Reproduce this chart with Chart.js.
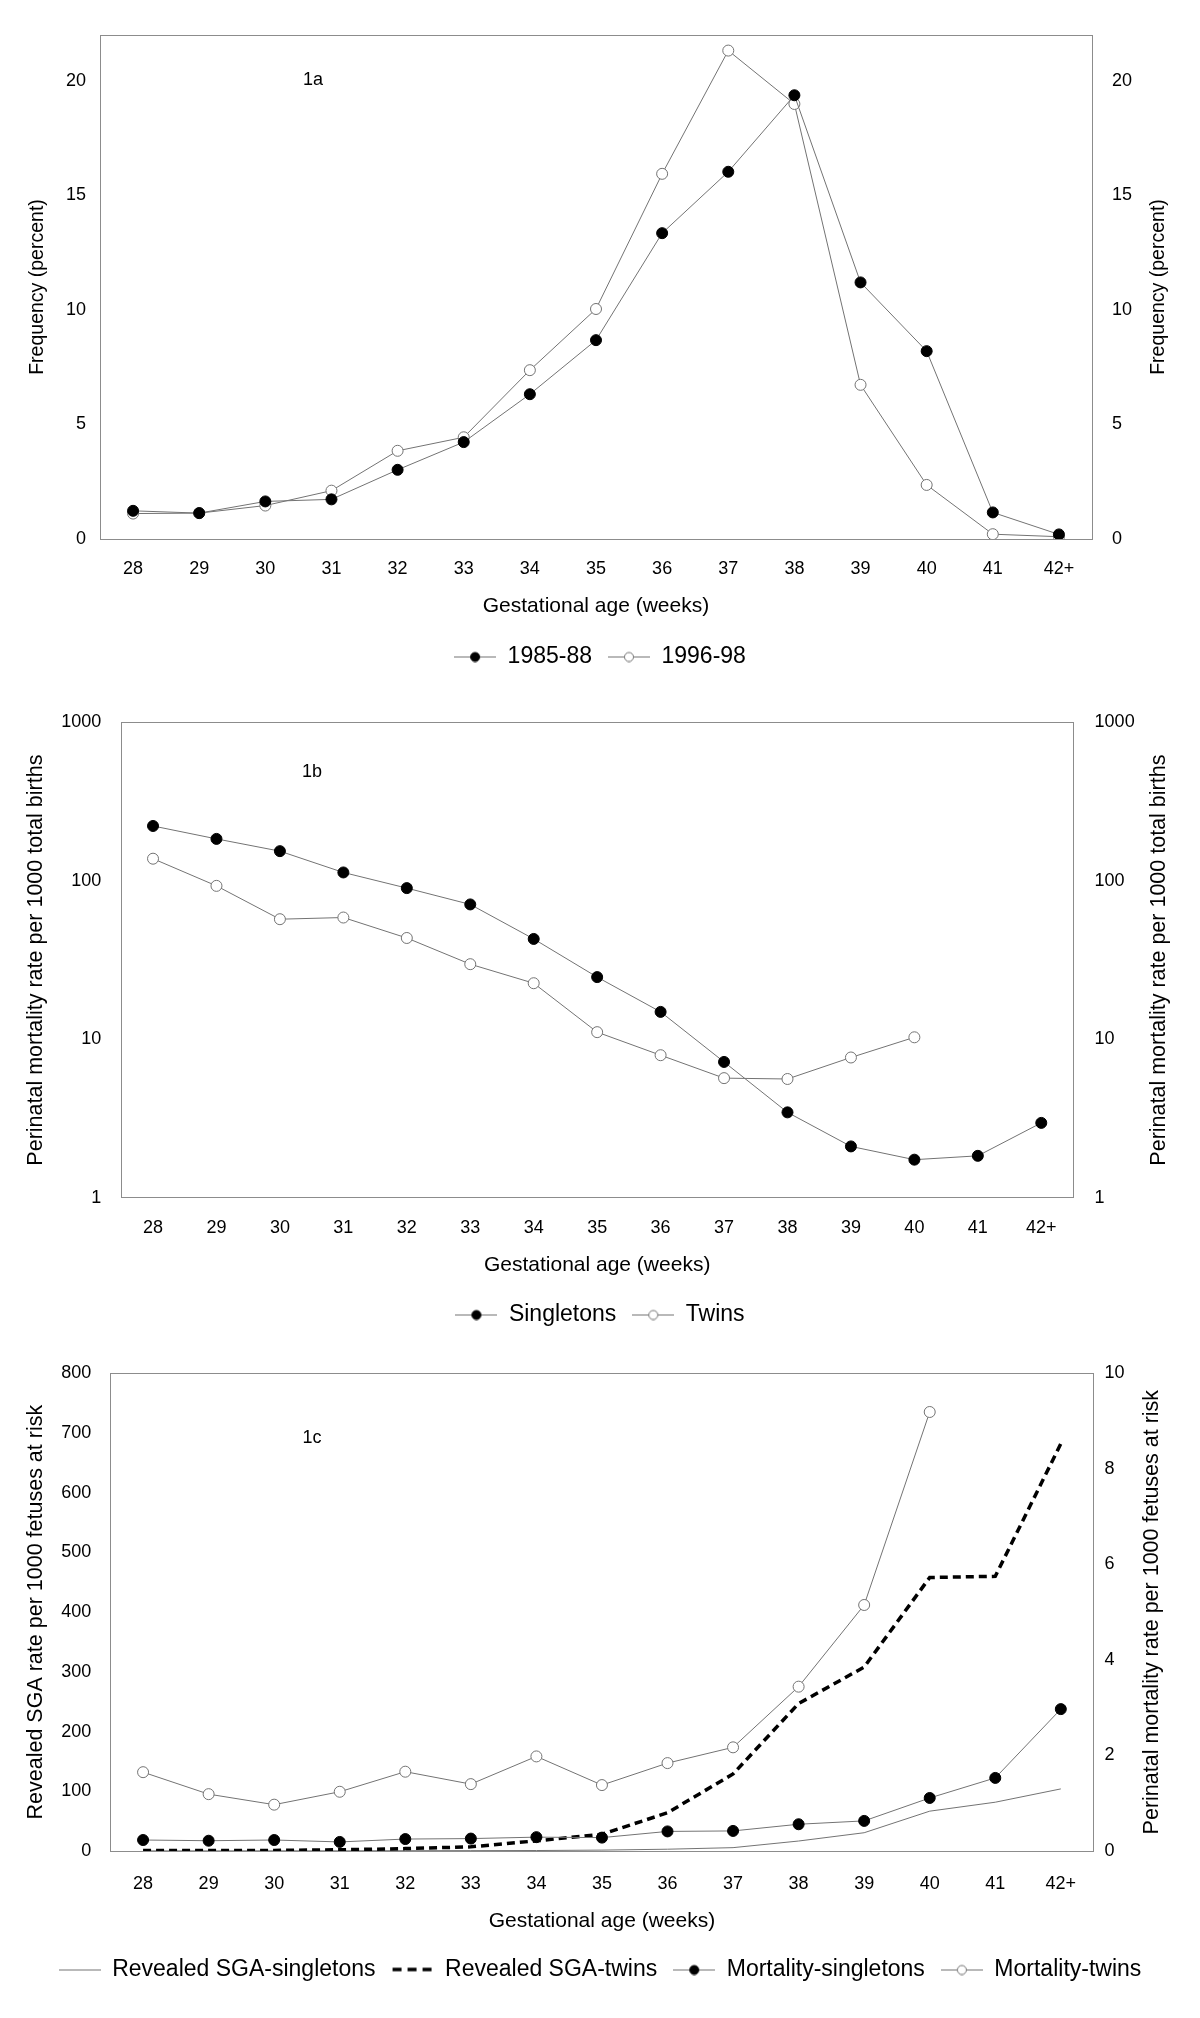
<!DOCTYPE html>
<html>
<head>
<meta charset="utf-8">
<title>Gestational age</title>
<script src="https://cdn.jsdelivr.net/npm/chart.js@4.4.1/dist/chart.umd.min.js"></script>
<style>
  body { margin: 0; background: #fff; }
  #page { position: relative; width: 1200px; height: 2018px; }
  canvas { position: absolute; left: 0; }
  .tag { position: absolute; font: 18px 'Liberation Sans', Arial, sans-serif; color: #000; transform: translate(-50%, -50%); }
</style>
</head>
<body>
<div id="page">
  <canvas id="chartA" width="1200" height="678" style="top:0px"></canvas>
  <canvas id="chartB" width="1200" height="646" style="top:690px"></canvas>
  <canvas id="chartC" width="1200" height="651" style="top:1340px"></canvas>
  <div class="tag" style="left:313px;top:79px">1a</div>
  <div class="tag" style="left:312px;top:771px">1b</div>
  <div class="tag" style="left:312px;top:1437px">1c</div>
</div>
<script>
// gestational weeks
var weeks = ['28', '29', '30', '31', '32', '33', '34', '35', '36', '37', '38', '39', '40', '41', '42+'];

// 1a - frequency (percent)
var freq1985 = [1.23, 1.13, 1.64, 1.73, 3.02, 4.23, 6.32, 8.68, 13.35, 16.03, 19.37, 11.2, 8.2, 1.16, 0.2];
var freq1996 = [1.11, 1.13, 1.46, 2.11, 3.85, 4.44, 7.37, 10.04, 15.94, 21.32, 18.99, 6.73, 2.36, 0.21, 0.1];
var freqTicks = [0, 5, 10, 15, 20];

// 1b - perinatal mortality per 1000 total births (log)
var pmSingletons = [222, 184, 154, 113, 90, 71, 43, 24.7, 14.9, 7.2, 3.46, 2.11, 1.74, 1.84, 2.97];
var pmTwins = [138, 93, 57.3, 58.7, 43.6, 29.8, 22.6, 11.1, 7.94, 5.69, 5.62, 7.68, 10.3, null, null];
var logTicks = [1, 10, 100, 1000];

// 1c - per 1000 fetuses at risk
var sgaSingletons = [0.2, 0.2, 0.3, 0.3, 0.5, 0.6, 0.8, 1.5, 3, 5.6, 16.7, 30.6, 66.7, 81.7, 104];
var sgaTwins = [1, 1, 1, 2, 4, 7, 17, 28, 64, 129, 247, 308, 458, 460, 682];
var riskSingletons = [0.23, 0.215, 0.23, 0.19, 0.25, 0.26, 0.29, 0.28, 0.41, 0.42, 0.56, 0.63, 1.11, 1.53, 2.97];
var riskTwins = [1.65, 1.19, 0.97, 1.24, 1.66, 1.4, 1.98, 1.38, 1.84, 2.17, 3.44, 5.15, 9.19, null, null];

Chart.defaults.font.family = "'Liberation Sans', Arial, sans-serif";
Chart.defaults.color = '#000';
Chart.defaults.animation = false;

var LINE = '#737373';

function icon(kind) {
    var c = document.createElement('canvas');
    c.width = 42;
    c.height = 12;
    var g = c.getContext('2d');
    g.lineWidth = 1;
    g.strokeStyle = LINE;
    if (kind == 'dash') {
        g.strokeStyle = '#000';
        g.lineWidth = 3.5;
        g.setLineDash([9, 6]);
        g.beginPath(); g.moveTo(1, 6); g.lineTo(42, 6); g.stroke();
        return c;
    }
    g.beginPath(); g.moveTo(0, 6.5); g.lineTo(42, 6.5); g.stroke();
    if (kind == 'filled' || kind == 'open') {
        g.beginPath();
        g.arc(21, 6.5, 4.5, 0, Math.PI * 2);
        g.fillStyle = kind == 'filled' ? '#000' : '#fff';
        g.fill();
        g.strokeStyle = kind == 'filled' ? '#000' : LINE;
        g.stroke();
    }
    return c;
}

// grey frame round the plot area
var boxPlugin = {
    id: 'box',
    beforeDatasetsDraw: function(chart) {
        var a = chart.chartArea, ctx = chart.ctx;
        ctx.save();
        ctx.strokeStyle = '#8c8c8c';
        ctx.lineWidth = 1;
        ctx.strokeRect(Math.round(a.left) + 0.5, Math.round(a.top) + 0.5,
            Math.round(a.right - a.left), Math.round(a.bottom - a.top));
        ctx.restore();
    }
};

// right axis title, read bottom-to-top like the left one
var sideTitle = {
    id: 'sideTitle',
    afterDraw: function(chart, args, opts) {
        if (!opts.text) return;
        var a = chart.chartArea, ctx = chart.ctx;
        ctx.save();
        ctx.translate(opts.x, (a.top + a.bottom) / 2);
        ctx.rotate(-Math.PI / 2);
        ctx.font = opts.size + "px 'Liberation Sans', Arial, sans-serif";
        ctx.fillStyle = '#000';
        ctx.textAlign = 'center';
        ctx.textBaseline = 'middle';
        ctx.fillText(opts.text, 0, 0);
        ctx.restore();
    }
};

function filledSet(label, data, axis) {
    return {
        label: label, data: data, yAxisID: axis,
        borderColor: LINE, borderWidth: 1,
        pointRadius: 5.5, pointBackgroundColor: '#000', pointBorderColor: '#000', pointBorderWidth: 1,
        fill: false, tension: 0
    };
}

function openSet(label, data, axis) {
    return {
        label: label, data: data, yAxisID: axis,
        borderColor: LINE, borderWidth: 1,
        pointRadius: 5.5, pointBackgroundColor: '#fff', pointBorderColor: LINE, pointBorderWidth: 1,
        fill: false, tension: 0
    };
}

function xAxis(h, pad, titlePad) {
    return {
        type: 'category',
        offset: true,
        grid: { display: false, drawTicks: false },
        border: { display: false },
        ticks: { font: { size: 18 }, padding: pad, maxRotation: 0, autoSkip: false },
        title: { display: true, text: 'Gestational age (weeks)', font: { size: 21 }, padding: { top: 0, bottom: titlePad } },
        afterFit: function(s) { s.height = h; }
    };
}

function yAxis(pos, w, pad, title, size, titlePad) {
    return {
        position: pos,
        grid: { display: false, drawTicks: false },
        border: { display: false },
        ticks: { font: { size: 18 }, padding: pad },
        title: { display: title != '', text: title, font: { size: size }, padding: { top: titlePad, bottom: 0 } },
        afterFit: function(s) { s.width = w; }
    };
}

function legendOpts(icons) {
    return {
        position: 'bottom',
        labels: {
            usePointStyle: true,
            pointStyleWidth: 42,
            padding: 16,
            color: '#000',
            font: { size: 23 },
            generateLabels: function(chart) {
                return chart.data.datasets.map(function(ds, i) {
                    return {
                        text: ds.label, pointStyle: icons[i], datasetIndex: i,
                        fontColor: '#000', lineWidth: 0, strokeStyle: 'rgba(0,0,0,0)', fillStyle: 'rgba(0,0,0,0)', hidden: false
                    };
                });
            }
        }
    };
}

function keepTicks(list) {
    return function(scale) {
        scale.ticks = list.map(function(v) { return { value: v }; });
    };
}

// ================= 1a ====================
var yA = yAxis('left', 100, 14, 'Frequency (percent)', 19.5, 25.8);
yA.min = 0; yA.max = 22;
yA.afterBuildTicks = keepTicks(freqTicks);
var yA2 = yAxis('right', 108, 20, '', 19.5, 0);
yA2.min = 0; yA2.max = 22;
yA2.afterBuildTicks = keepTicks(freqTicks);

new Chart(document.getElementById('chartA'), {
    type: 'line',
    data: {
        labels: weeks,
        datasets: [filledSet('1985-88', freq1985, 'y'), openSet('1996-98', freq1996, 'y')]
    },
    options: {
        responsive: false,
        layout: { padding: { top: 35, left: 0, right: 0, bottom: 0 } },
        scales: { x: xAxis(90, 19, 10.4), y: yA, y2: yA2 },
        plugins: {
            legend: legendOpts([icon('filled'), icon('open')]),
            tooltip: { enabled: false },
            sideTitle: { text: 'Frequency (percent)', size: 19.5, x: 1159 }
        }
    },
    plugins: [boxPlugin, sideTitle]
});

// ================= 1b ====================
var logFmt = function(v) { return String(v); };
var yB = yAxis('left', 121.3, 20, 'Perinatal mortality rate per 1000 total births', 21.5, 23.1);
yB.type = 'logarithmic'; yB.min = 1; yB.max = 1000;
yB.afterBuildTicks = keepTicks(logTicks);
yB.ticks.callback = logFmt;
var yB2 = yAxis('right', 127, 21.6, '', 21.5, 0);
yB2.type = 'logarithmic'; yB2.min = 1; yB2.max = 1000;
yB2.afterBuildTicks = keepTicks(logTicks);
yB2.ticks.callback = logFmt;

new Chart(document.getElementById('chartB'), {
    type: 'line',
    data: {
        labels: weeks,
        datasets: [filledSet('Singletons', pmSingletons, 'y'), openSet('Twins', pmTwins, 'y')]
    },
    options: {
        responsive: false,
        layout: { padding: { top: 18.6, left: 0, right: 0, bottom: 0 } },
        scales: { x: xAxis(89.2, 19.9, 8.9), y: yB, y2: yB2 },
        plugins: {
            legend: legendOpts([icon('filled'), icon('open')]),
            tooltip: { enabled: false },
            sideTitle: { text: 'Perinatal mortality rate per 1000 total births', size: 21.5, x: 1159 }
        }
    },
    plugins: [boxPlugin, sideTitle]
});

// ================= 1c ====================
var yC = yAxis('left', 110.3, 19, 'Revealed SGA rate per 1000 fetuses at risk', 21.5, 23.1);
yC.min = 0; yC.max = 800; yC.ticks.stepSize = 100;
var yC2 = yAxis('right', 106.4, 11, '', 21.5, 0);
yC2.min = 0; yC2.max = 10; yC2.ticks.stepSize = 2;

var sgaS = { label: 'Revealed SGA-singletons', data: sgaSingletons, yAxisID: 'y', borderColor: LINE, borderWidth: 1, pointRadius: 0, fill: false, order: 3 };
var sgaT = { label: 'Revealed SGA-twins', data: sgaTwins, yAxisID: 'y', borderColor: '#000', borderWidth: 3.5, borderDash: [8, 5], pointRadius: 0, fill: false, order: 2 };
var mS = filledSet('Mortality-singletons', riskSingletons, 'y2');
mS.order = 0;
var mT = openSet('Mortality-twins', riskTwins, 'y2');
mT.order = 1;

new Chart(document.getElementById('chartC'), {
    type: 'line',
    data: {
        labels: weeks,
        datasets: [sgaS, sgaT, mS, mT]
    },
    options: {
        responsive: false,
        layout: { padding: { top: 33.3, left: 0, right: 0, bottom: 0 } },
        scales: { x: xAxis(91, 22.2, 7.9), y: yC, y2: yC2 },
        plugins: {
            legend: legendOpts([icon('line'), icon('dash'), icon('filled'), icon('open')]),
            tooltip: { enabled: false },
            sideTitle: { text: 'Perinatal mortality rate per 1000 fetuses at risk', size: 21.5, x: 1152 }
        }
    },
    plugins: [boxPlugin, sideTitle]
});
</script>
</body>
</html>
